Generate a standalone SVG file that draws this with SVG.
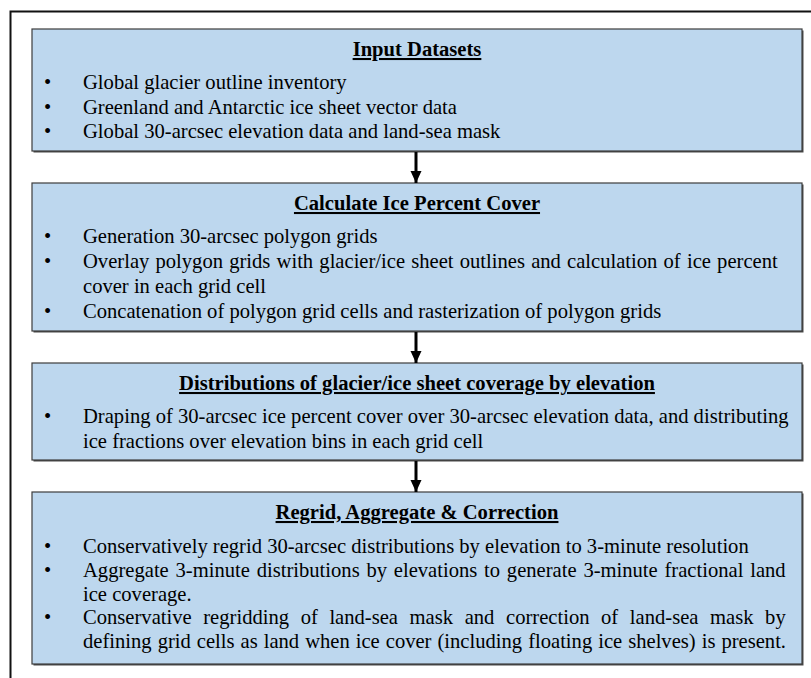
<svg xmlns="http://www.w3.org/2000/svg" width="811" height="678" viewBox="0 0 811 678">
<defs>
<style>
.box{fill:#BDD7EE;stroke:#3c3c3c;stroke-width:1.2}
.shadow{fill:#4a4a4a}
.t{font-family:'Liberation Serif','Times New Roman',Tinos,serif;font-size:20.6px;fill:#000}
.title{font-weight:bold;text-anchor:middle;text-decoration:underline}
.conn{stroke:#000;stroke-width:3;fill:none}
</style>
<marker id="ah" markerUnits="userSpaceOnUse" markerWidth="12" markerHeight="12" viewBox="0 0 12 12" refX="12" refY="6" orient="auto">
<path d="M0,0.5 L12,6 L0,11.5 Z" fill="#000"/>
</marker>
</defs>
<rect width="811" height="678" fill="#fff"/>
<rect x="10.5" y="11.5" width="830" height="700" fill="none" stroke="#111" stroke-width="2"/>

<g class="t" font-family="Liberation Serif, Times New Roman, serif">
<g id="input-datasets">
<rect class="shadow" x="33.5" y="30.5" width="770" height="122"/>
<rect class="box" x="32" y="29" width="770" height="122"/>
<text class="title" x="417" y="56">Input Datasets</text>
<text x="44" y="89">•</text><text x="83" y="89">Global glacier outline inventory</text>
<text x="44" y="113.5">•</text><text x="83" y="113.5">Greenland and Antarctic ice sheet vector data</text>
<text x="44" y="138">•</text><text x="83" y="138">Global 30-arcsec elevation data and land-sea mask</text>
</g>

<g id="ice-percent-cover">
<rect class="shadow" x="33.5" y="184.5" width="770" height="148"/>
<rect class="box" x="32" y="183" width="770" height="148"/>
<text class="title" x="417" y="210">Calculate Ice Percent Cover</text>
<text x="44" y="243">•</text><text x="83" y="243">Generation 30-arcsec polygon grids</text>
<text x="44" y="268">•</text><text x="83" y="268" word-spacing="1.03">Overlay polygon grids with glacier/ice sheet outlines and calculation of ice percent</text>
<text x="83" y="293">cover in each grid cell</text>
<text x="44" y="318">•</text><text x="83" y="318">Concatenation of polygon grid cells and rasterization of polygon grids</text>
</g>

<g id="distributions">
<rect class="shadow" x="33.5" y="364.5" width="770" height="97"/>
<rect class="box" x="32" y="363" width="770" height="97"/>
<text class="title" x="417" y="390">Distributions of glacier/ice sheet coverage by elevation</text>
<text x="44" y="423">•</text><text x="83" y="423">Draping of 30-arcsec ice percent cover over 30-arcsec elevation data, and distributing</text>
<text x="83" y="448">ice fractions over elevation bins in each grid cell</text>
</g>

<g id="regrid">
<rect class="shadow" x="33.5" y="493.5" width="770" height="172"/>
<rect class="box" x="32" y="492" width="770" height="172"/>
<text class="title" x="417" y="519">Regrid, Aggregate &amp; Correction</text>
<text x="44" y="553">•</text><text x="83" y="553">Conservatively regrid 30-arcsec distributions by elevation to 3-minute resolution</text>
<text x="44" y="577">•</text><text x="83" y="577" word-spacing="1.63">Aggregate 3-minute distributions by elevations to generate 3-minute fractional land</text>
<text x="83" y="600.5">ice coverage.</text>
<text x="44" y="624">•</text><text x="83" y="624" word-spacing="6.45">Conservative regridding of land-sea mask and correction of land-sea mask by</text>
<text x="83" y="647.5" word-spacing="0.85">defining grid cells as land when ice cover (including floating ice shelves) is present.</text>
</g>
</g>

<g id="connectors">
<line class="conn" x1="416" y1="152" x2="416" y2="183" marker-end="url(#ah)"/>
<line class="conn" x1="416" y1="332" x2="416" y2="363" marker-end="url(#ah)"/>
<line class="conn" x1="416" y1="461" x2="416" y2="492" marker-end="url(#ah)"/>
</g>
</svg>
